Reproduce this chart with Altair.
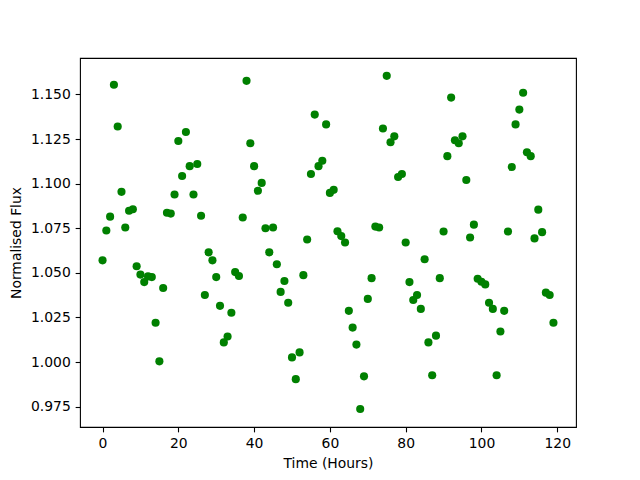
import altair as alt
import pandas as pd

hours = list(range(120))
flux = [
    1.057, 1.0737, 1.0815, 1.1554, 1.132, 1.0954, 1.0754, 1.0848, 1.0856, 1.0537,
    1.049, 1.0448, 1.048, 1.0476, 1.022, 1.0004, 1.0415, 1.0837, 1.0832, 1.0939,
    1.1239, 1.1043, 1.1289, 1.1098, 1.0939, 1.111, 1.082, 1.0376, 1.0615, 1.057,
    1.0476, 1.0315, 1.011, 1.0143, 1.0276, 1.0504, 1.0482, 1.081, 1.1576, 1.1226,
    1.1098, 1.096, 1.1004, 1.075, 1.0615, 1.0754, 1.0548, 1.0393, 1.0454, 1.0332,
    1.0026, 0.9904, 1.0054, 1.0487, 1.0687, 1.1054, 1.1387, 1.1098, 1.1128, 1.1332,
    1.0948, 1.0965, 1.0733, 1.0706, 1.067, 1.0287, 1.0193, 1.0098, 0.9737, 0.992,
    1.0354, 1.047, 1.0759, 1.0754, 1.1309, 1.1604, 1.1232, 1.1265, 1.1037, 1.1054,
    1.067, 1.0448, 1.0348, 1.0376, 1.0298, 1.0576, 1.011, 0.9926, 1.0148, 1.047,
    1.0732, 1.1154, 1.1482, 1.1243, 1.1226, 1.1265, 1.102, 1.0698, 1.077, 1.0467,
    1.045, 1.0435, 1.0332, 1.0298, 0.9926, 1.0171, 1.0287, 1.0732, 1.1093, 1.1332,
    1.1415, 1.1509, 1.1176, 1.1154, 1.0693, 1.0854, 1.0728, 1.0389, 1.0376, 1.022,
]
x_ticks = [0, 20, 40, 60, 80, 100, 120]
y_ticks = [0.975, 1.000, 1.025, 1.050, 1.075, 1.100, 1.125, 1.150]

df = pd.DataFrame({"t": hours, "f": flux})

font = "DejaVu Sans"
axis_common = dict(
    grid=False, domain=False, tickColor="black", tickSize=4.86, tickWidth=1.1,
    labelColor="black", labelFont=font, labelFontSize=13.9, labelPadding=4.86,
    titleColor="black", titleFont=font, titleFontSize=13.9, titleFontWeight="normal",
)

chart = alt.Chart(df).mark_point(
    filled=True, shape="circle", color="#008000", opacity=1, size=66
).encode(
    x=alt.X("t:Q", title="Time (Hours)",
            scale=alt.Scale(domain=[-5.95, 124.95], nice=False, zero=False),
            axis=alt.Axis(values=x_ticks, format="d", titlePadding=5.5, **axis_common)),
    y=alt.Y("f:Q", title="Normalised Flux",
            scale=alt.Scale(domain=[0.9636, 1.1704], nice=False, zero=False),
            axis=alt.Axis(values=y_ticks, format=".3f", titlePadding=7, **axis_common)),
).properties(
    width=496, height=369,
    autosize=alt.AutoSizeParams(type="none"),
    padding={"left": 72, "top": 50, "right": 56, "bottom": 45},
).configure_view(stroke="black", strokeWidth=1.1)

chart.save("out.html", embed_options={"renderer": "svg", "actions": False})
